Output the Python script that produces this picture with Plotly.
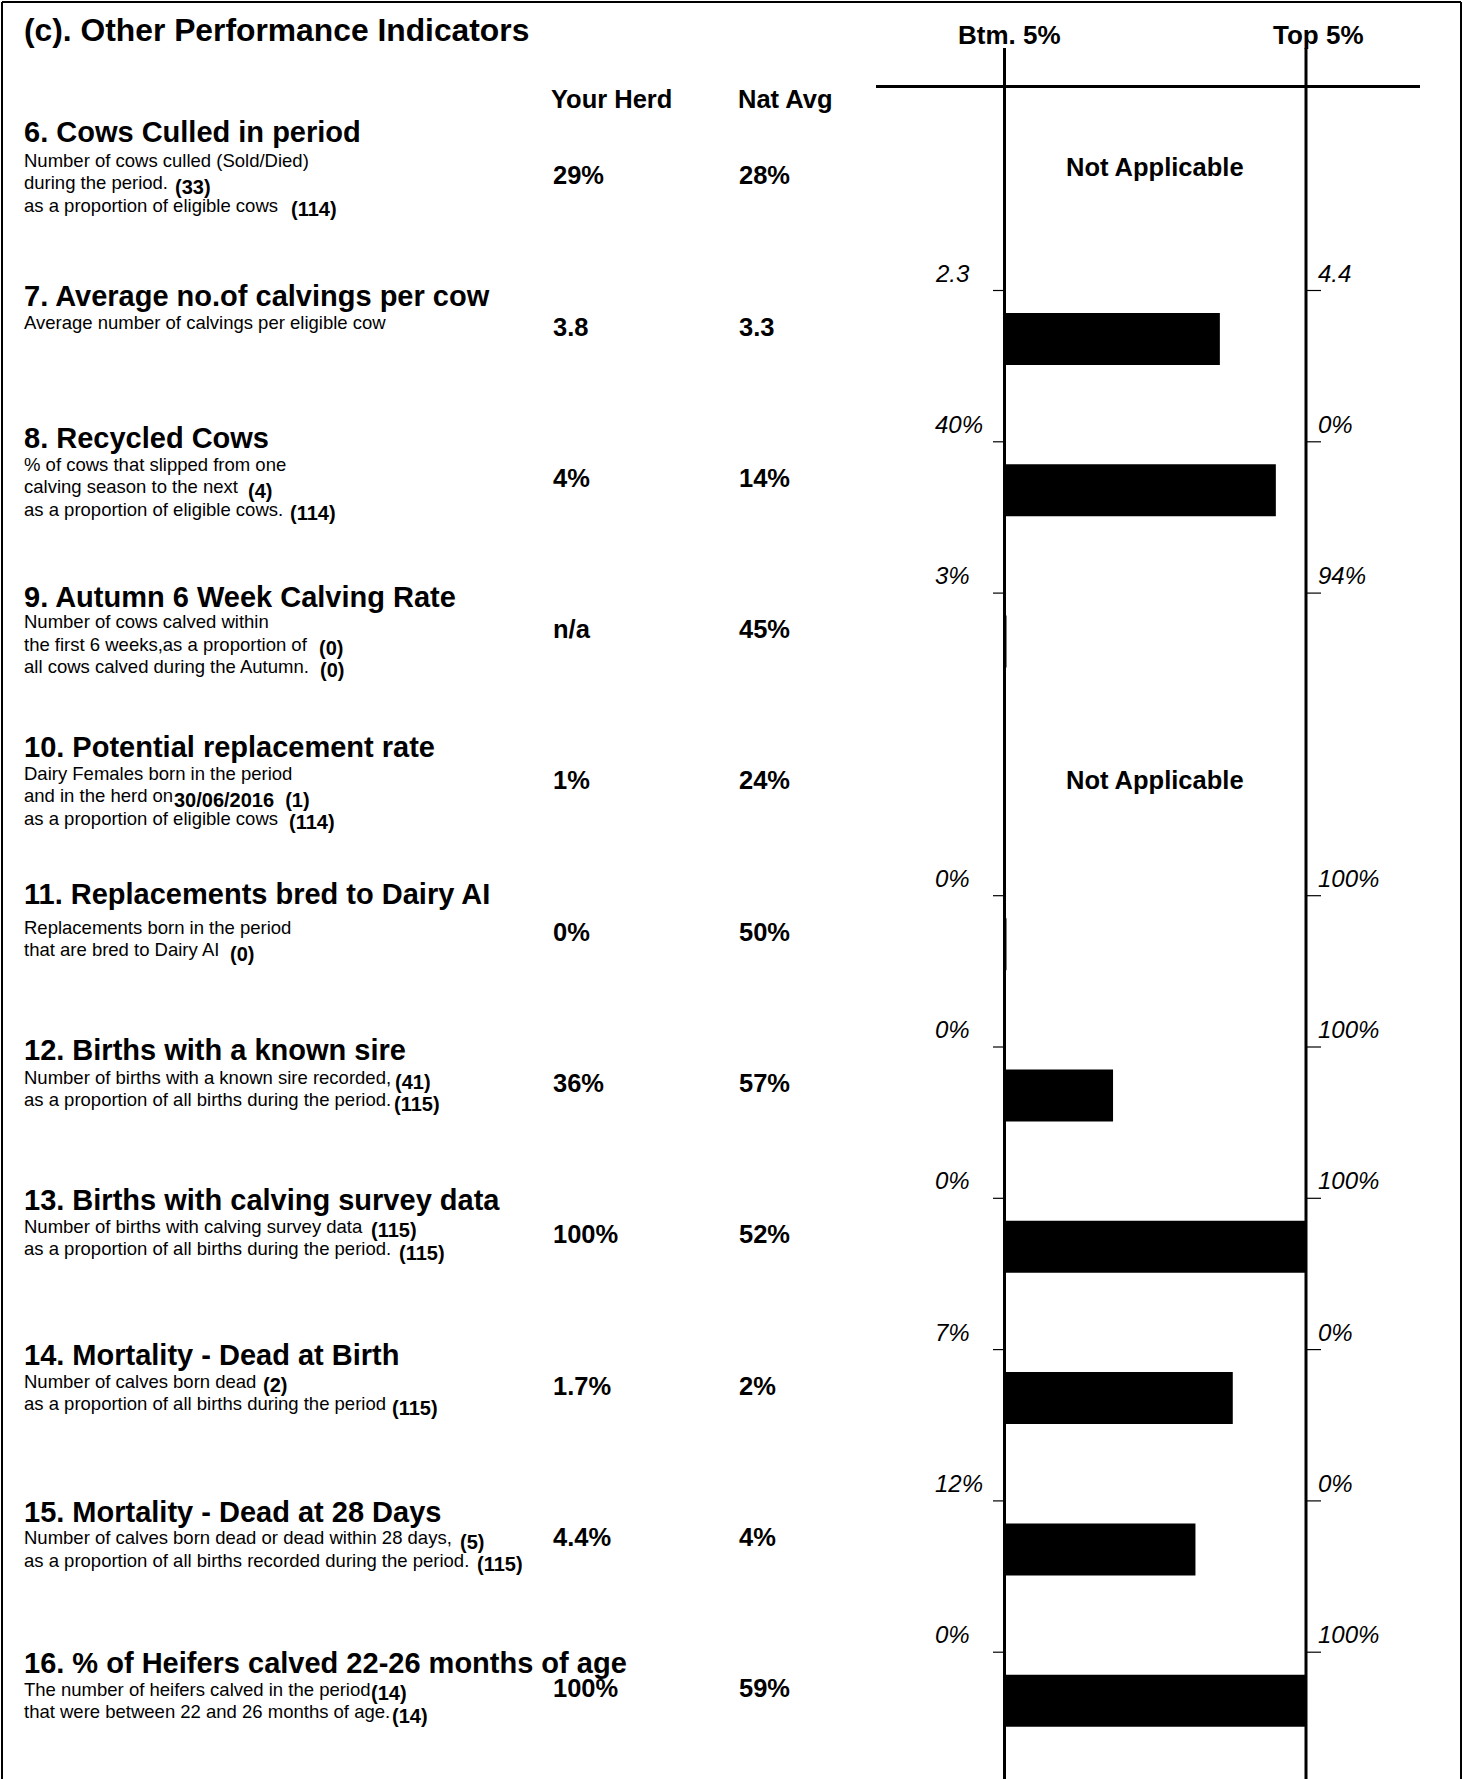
import plotly.graph_objects as go

W, H = 1463, 1779
FONT = "Liberation Sans, Arial, Helvetica, sans-serif"

# ---- data -------------------------------------------------------------
titles = [
    "6. Cows Culled in period",
    "7. Average no.of calvings per cow",
    "8. Recycled Cows",
    "9. Autumn 6 Week Calving Rate",
    "10. Potential replacement rate",
    "11. Replacements bred to Dairy AI",
    "12. Births with a known sire",
    "13. Births with calving survey data",
    "14. Mortality - Dead at Birth",
    "15. Mortality - Dead at 28 Days",
    "16. % of Heifers calved 22-26 months of age",
]
descriptions = [
    ["Number of cows culled (Sold/Died)", "during the period.", "as a proportion of eligible cows"],
    ["Average number of calvings per eligible cow"],
    ["% of cows that slipped from one", "calving season to the next", "as a proportion of eligible cows."],
    ["Number of cows calved within", "the first 6 weeks,as a proportion of", "all cows calved during the Autumn."],
    ["Dairy Females born in the period", "and in the herd on", "as a proportion of eligible cows"],
    ["Replacements born in the period", "that are bred to Dairy AI"],
    ["Number of births with a known sire recorded,", "as a proportion of all births during the period."],
    ["Number of births with calving survey data", "as a proportion of all births during the period."],
    ["Number of calves born dead", "as a proportion of all births during the period"],
    ["Number of calves born dead or dead within 28 days,", "as a proportion of all births recorded during the period."],
    ["The number of heifers calved in the period", "that were between 22 and 26 months of age."],
]
counts = [
    [None, "(33)", "(114)"],
    [None],
    [None, "(4)", "(114)"],
    [None, "(0)", "(0)"],
    [None, "30/06/2016&nbsp;&nbsp;(1)", "(114)"],
    [None, "(0)"],
    ["(41)", "(115)"],
    ["(115)", "(115)"],
    ["(2)", "(115)"],
    ["(5)", "(115)"],
    ["(14)", "(14)"],
]
herd_text = ["29%", "3.8", "4%", "n/a", "1%", "0%", "36%", "100%", "1.7%", "4.4%", "100%"]
nat_text = ["28%", "3.3", "14%", "45%", "24%", "50%", "57%", "52%", "2%", "4%", "59%"]
herd_value = [29, 3.8, 4, None, 1, 0, 36, 100, 1.7, 4.4, 100]
btm_value = [None, 2.3, 40, 3, None, 0, 0, 0, 7, 12, 0]
top_value = [None, 4.4, 0, 94, None, 100, 100, 100, 0, 0, 100]
btm_label = [None, "2.3", "40%", "3%", None, "0%", "0%", "0%", "7%", "12%", "0%"]
top_label = [None, "4.4", "0%", "94%", None, "100%", "100%", "100%", "0%", "0%", "100%"]

# ---- layout (pixels) ----------------------------------------------------
ROW0, ROW_H = 187.7, 151.3
PANEL_L, PANEL_R = 1004.5, 1306.0
BAR_H = 52
LINE_H = 22.4
title_dy = [-56, -43.5, -52, -45, -46, -50, -45.5, -46.5, -43.5, -37.5, -37.5]
desc_dy = [-27.5, -17, -26, -20, -19.5, -17, -18, -20.5, -17, -11.5, -11.5]
count_x = [
    [None, 173, 289], [None], [None, 246, 288], [None, 317, 318], [None, 172, 287],
    [None, 228], [393, 392], [369, 397], [261, 390], [458, 475], [369, 390],
]
na_dy = {0: -21, 4: -13}

n = len(titles)
rows = list(range(n))


def px(x):
    return x / W


def py(y):
    return 1 - y / H


def ry(i, dy):
    return i + dy / ROW_H


# normalised position of the herd between bottom 5% and top 5%
frac, bar_rows = [], []
for i in rows:
    if btm_value[i] is None:
        continue
    v = herd_value[i] if herd_value[i] is not None else btm_value[i]
    f = (v - btm_value[i]) / (top_value[i] - btm_value[i])
    frac.append(max(min(f, 1), 0.006))
    bar_rows.append(i)

fig = go.Figure(go.Bar(
    x=frac, y=bar_rows, orientation="h", base=0, width=BAR_H / ROW_H,
    marker=dict(color="black", line=dict(width=0)), hoverinfo="skip",
))

ann = []


def text(x, y, s, size, bold=False, italic=False, anchor="left", yref="y"):
    if bold:
        s = f"<b>{s}</b>"
    if italic:
        s = f"<i>{s}</i>"
    ann.append(dict(x=px(x), y=y, xref="paper", yref=yref, text=s, showarrow=False,
                    xanchor=anchor, yanchor="middle",
                    font=dict(family=FONT, size=size, color="black")))


text(22, py(30), "(c). Other Performance Indicators", 31.8, bold=True, yref="paper")
text(1009, py(35), "Btm. 5%", 26, bold=True, anchor="center", yref="paper")
text(1318, py(35), "Top 5%", 26, bold=True, anchor="center", yref="paper")
text(549, py(99), "Your Herd", 25.5, bold=True, yref="paper")
text(736, py(99), "Nat Avg", 25.5, bold=True, yref="paper")

shapes = []


def line(x0, y0, x1, y1, w, ref="paper"):
    shapes.append(dict(type="line", xref="paper", yref=ref, x0=px(x0), x1=px(x1), y0=y0, y1=y1,
                       line=dict(color="black", width=w)))


# frame and panel guides
line(2, py(2), 1461, py(2), 2)
line(2, py(2), 2, py(H + 5), 2)
line(1461, py(2), 1461, py(H + 5), 2)
line(876, py(86.5), 1420, py(86.5), 3)
line(PANEL_L, py(48), PANEL_L, py(H + 5), 3)
line(PANEL_R, py(48), PANEL_R, py(H + 5), 3)

for i in rows:
    text(22, ry(i, title_dy[i]), titles[i], 29, bold=True)
    for k, s in enumerate(descriptions[i]):
        yy = desc_dy[i] + k * LINE_H
        text(22, ry(i, yy), s, 18.5)
        if counts[i][k]:
            text(count_x[i][k], ry(i, yy + 4), counts[i][k], 20, bold=True)
    text(551, ry(i, -12.5), herd_text[i], 25.5, bold=True)
    text(737, ry(i, -12.5), nat_text[i], 25.5, bold=True)
    if btm_label[i] is None:
        text((PANEL_L + PANEL_R) / 2, ry(i, na_dy[i]), "Not Applicable", 25.5, bold=True, anchor="center")
    else:
        text(933, ry(i, -66), btm_label[i], 24, italic=True)
        text(1316, ry(i, -66), top_label[i], 24, italic=True)
        line(993, ry(i, -48.5), PANEL_L, ry(i, -48.5), 1.2, ref="y")
        line(PANEL_R, ry(i, -48.5), 1321, ry(i, -48.5), 1.2, ref="y")

fig.update_layout(
    width=W, height=H, margin=dict(l=0, r=0, t=0, b=0),
    paper_bgcolor="white", plot_bgcolor="white", showlegend=False,
    xaxis=dict(domain=[px(PANEL_L), px(PANEL_R)], range=[0, 1], visible=False, fixedrange=True),
    yaxis=dict(domain=[0, 1], range=[(H - ROW0) / ROW_H, -ROW0 / ROW_H], visible=False, fixedrange=True),
    annotations=ann, shapes=shapes,
)
fig.write_html("out.html", config={"displayModeBar": False},
               post_script="document.body.style.margin='0';")
